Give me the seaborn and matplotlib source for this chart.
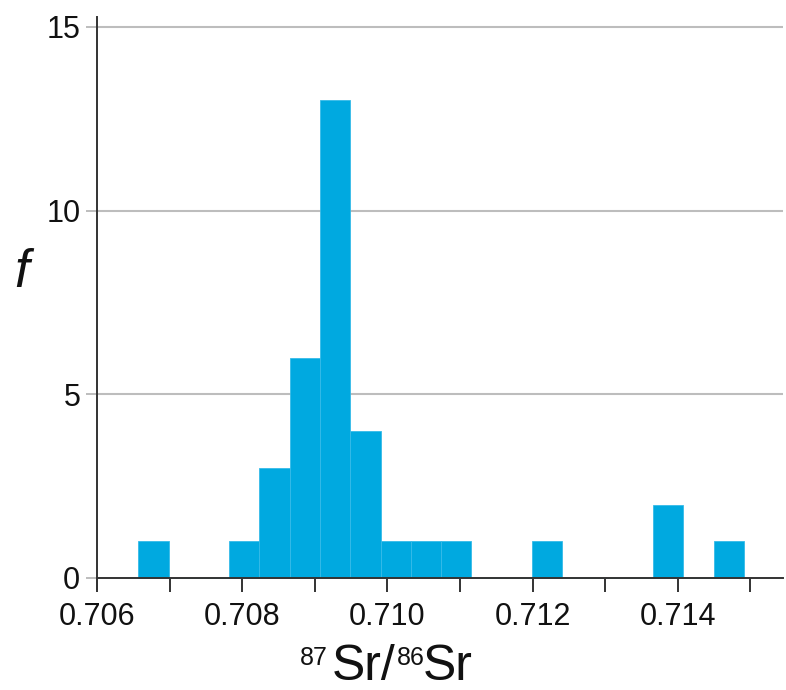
import numpy as np
import pandas as pd
import seaborn as sns
import matplotlib.pyplot as plt

# histogram of 87Sr/86Sr ratios (counts)
bin_start = 0.70657
bin_width = 0.000417
counts = [1, 0, 0, 1, 3, 6, 13, 4, 1, 1, 1, 0, 0, 1, 0, 0, 0, 2, 0, 1]
x_ticks = [0.706, 0.707, 0.708, 0.709, 0.710, 0.711, 0.712, 0.713, 0.714, 0.715]
x_labels = ["0.706", "", "0.708", "", "0.710", "", "0.712", "", "0.714", ""]
y_ticks = [0, 5, 10, 15]

edges = bin_start + bin_width * np.arange(len(counts) + 1)
df = pd.DataFrame({"ratio": (edges[:-1] + edges[1:]) / 2, "n": counts})

sns.set_theme(style="white")
plt.rcParams['font.family'] = ['Liberation Sans', 'DejaVu Sans']
plt.rcParams['text.color'] = '#111111'

fig = plt.figure(figsize=(7.86, 6.90), dpi=100)
ax = fig.add_axes([97 / 786, 101 / 690, 686 / 786, 572 / 690])

sns.histplot(data=df, x="ratio", weights="n", bins=list(edges), color="#00a9e0",
             edgecolor="#36bbe8", linewidth=0.6, alpha=1, ax=ax, zorder=3)

ax.set_xlim(0.706, 0.71545)
ax.set_ylim(-0.3, 15.27)
ax.set_xticks(x_ticks)
ax.set_xticklabels(x_labels)
ax.set_yticks(y_ticks)
ax.set_yticklabels([str(t) for t in y_ticks])
ax.set_xlabel("")
ax.set_ylabel("")

for y in y_ticks[1:]:
    ax.axhline(y, color="#bdbdbd", lw=1.5, zorder=1)

for s in ["top", "right"]:
    ax.spines[s].set_visible(False)
ax.spines["bottom"].set_position(("data", 0))
ax.spines["bottom"].set_zorder(4)
for s in ["left", "bottom"]:
    ax.spines[s].set_color("#333333")
    ax.spines[s].set_linewidth(1.4)

ax.tick_params(axis="x", direction="out", length=10, width=1.4, color="#333333",
               labelsize=22, pad=7, bottom=True, labelcolor="#111111")
ax.tick_params(axis="y", direction="out", length=8, width=1.4, color="#bdbdbd",
               labelsize=22, pad=4, left=True, labelcolor="#111111")
ax.yaxis.get_major_ticks()[0].tick1line.set_color("#333333")

fig.text(22 / 786, 1 - 273 / 690, "f", style="italic", fontsize=38,
         ha="center", va="center", color="#111111")

# x label with small superscripts, each piece placed after the previous one
fig.canvas.draw()
renderer = fig.canvas.get_renderer()
parts = [("87", 18, 665, 0), ("Sr/", 36, 680, 4), ("86", 18, 665, 1), ("Sr", 36, 680, -2)]
x_px = 300
for txt, size, base, gap in parts:
    x_px += gap
    t = fig.text(x_px / 786, 1 - base / 690, txt, fontsize=size,
                 ha="left", va="baseline", color="#111111")
    x_px = t.get_window_extent(renderer).x1

fig.savefig("out.png", dpi=100)
